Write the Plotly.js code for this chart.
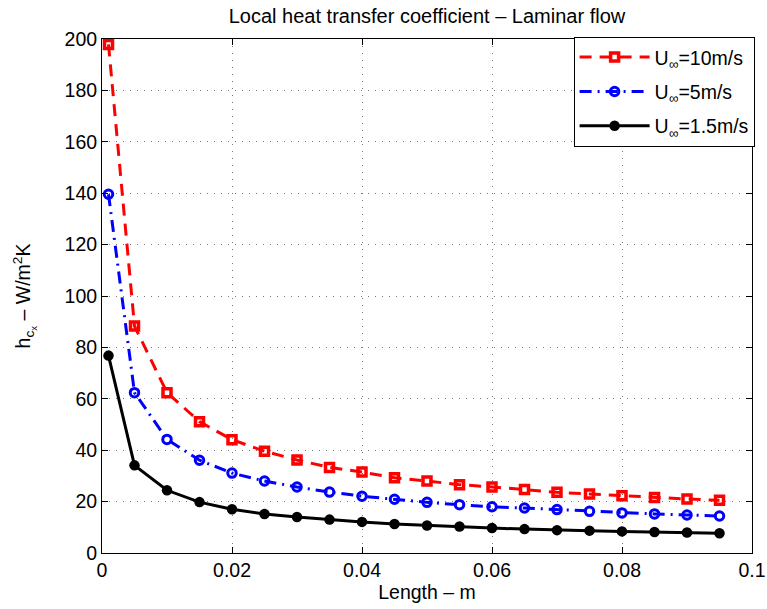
<!DOCTYPE html>
<html>
<head>
<meta charset="utf-8">
<script src="https://cdn.plot.ly/plotly-3.0.1.min.js"></script>
<style>
  html, body { margin: 0; padding: 0; background: #fff; }
  #chart { width: 767px; height: 609px; }
</style>
</head>
<body>
<div id="chart"></div>
<script>
// Distance along the plate (m)
const lengthM = [0.001, 0.005, 0.01, 0.015, 0.02, 0.025, 0.03, 0.035, 0.04, 0.045,
                 0.05, 0.055, 0.06, 0.065, 0.07, 0.075, 0.08, 0.085, 0.09, 0.095];

// Local heat transfer coefficient (W/m^2K) for each free-stream velocity
const h10 = [197.9, 88.3, 62.4, 51.1, 44.1, 39.6, 36.2, 33.3, 31.5, 29.3,
             28.0, 26.6, 25.7, 24.7, 23.6, 23.0, 22.3, 21.6, 21.0, 20.5];
const h5 = [139.6, 62.4, 44.2, 36.1, 31.1, 28.0, 25.7, 23.7, 22.1, 20.9,
            19.7, 18.8, 18.0, 17.5, 16.9, 16.2, 15.6, 15.2, 14.8, 14.4];
const h15 = [76.8, 34.1, 24.4, 19.8, 17.0, 15.2, 14.0, 13.0, 12.1, 11.3,
             10.7, 10.3, 9.7, 9.3, 8.9, 8.7, 8.4, 8.2, 8.0, 7.7];

const seriesNames = ['U<sub>∞</sub>=10m/s', 'U<sub>∞</sub>=5m/s', 'U<sub>∞</sub>=1.5m/s'];
const xTicks = [0, 0.02, 0.04, 0.06, 0.08, 0.1];
const xTickText = ['0', '0.02', '0.04', '0.06', '0.08', '0.1'];
const yTicks = [0, 20, 40, 60, 80, 100, 120, 140, 160, 180, 200];

const font = 'Liberation Sans, Arial, Helvetica, sans-serif';
const fs = 19.5;

const traces = [
  {
    x: lengthM, y: h10, name: seriesNames[0], type: 'scatter', mode: 'lines+markers',
    legendgroup: 'a',
    line: { color: '#ff0000', width: 3, dash: '12px,8px' },
    marker: { symbol: 'square-open', size: 8, color: '#ff0000', line: { width: 3.5, color: '#ff0000' } }
  },
  {
    x: lengthM, y: h5, name: seriesNames[1], type: 'scatter', mode: 'lines+markers',
    legendgroup: 'b',
    line: { color: '#0000ff', width: 3, dash: '12px,6px,2px,6px' },
    marker: { symbol: 'circle-open', size: 8.5, color: '#0000ff', line: { width: 3, color: '#0000ff' } }
  },
  {
    x: lengthM, y: h15, name: seriesNames[2], type: 'scatter', mode: 'lines+markers',
    legendgroup: 'c',
    line: { color: '#000000', width: 3 },
    marker: { symbol: 'circle', size: 10.5, color: '#000000' }
  }
];

const axisCommon = {
  showline: true, linecolor: '#000', linewidth: 1, mirror: 'ticks',
  ticks: 'inside', ticklen: 6, tickcolor: '#000',
  showgrid: true, gridcolor: '#777', griddash: '1px,6px', gridwidth: 1,
  zeroline: false, ticklabeloverflow: 'allow',
  tickfont: { family: font, size: fs, color: '#000' }
};

const layout = {
  width: 767, height: 609,
  margin: { l: 102, r: 13, t: 39, b: 56 },
  paper_bgcolor: '#fff', plot_bgcolor: '#fff',
  title: {
    text: 'Local heat transfer coefficient – Laminar flow',
    font: { family: font, size: 20, color: '#000' },
    x: 0.5, xref: 'paper', y: 0.974, yanchor: 'middle'
  },
  xaxis: Object.assign({}, axisCommon, {
    range: [0, 0.1], tickvals: xTicks, ticktext: xTickText,
    title: { text: 'Length – m', font: { family: font, size: fs, color: '#000' }, standoff: 4 }
  }),
  yaxis: Object.assign({}, axisCommon, {
    range: [0, 200], tickvals: yTicks,
    title: { text: 'h<sub>c<sub>x</sub></sub> – W/m<sup>2</sup>K', font: { family: font, size: fs, color: '#000' }, standoff: 28 }
  }),
  showlegend: true,
  legend: {
    x: 1.004, xanchor: 'right', y: 1.004, yanchor: 'top',
    bgcolor: '#fff', bordercolor: '#000', borderwidth: 1,
    font: { family: font, size: fs, color: '#000' },
    itemwidth: 70, tracegroupgap: 6
  }
};

Plotly.newPlot('chart', traces, layout, { displayModeBar: false, staticPlot: true });
</script>
</body>
</html>
